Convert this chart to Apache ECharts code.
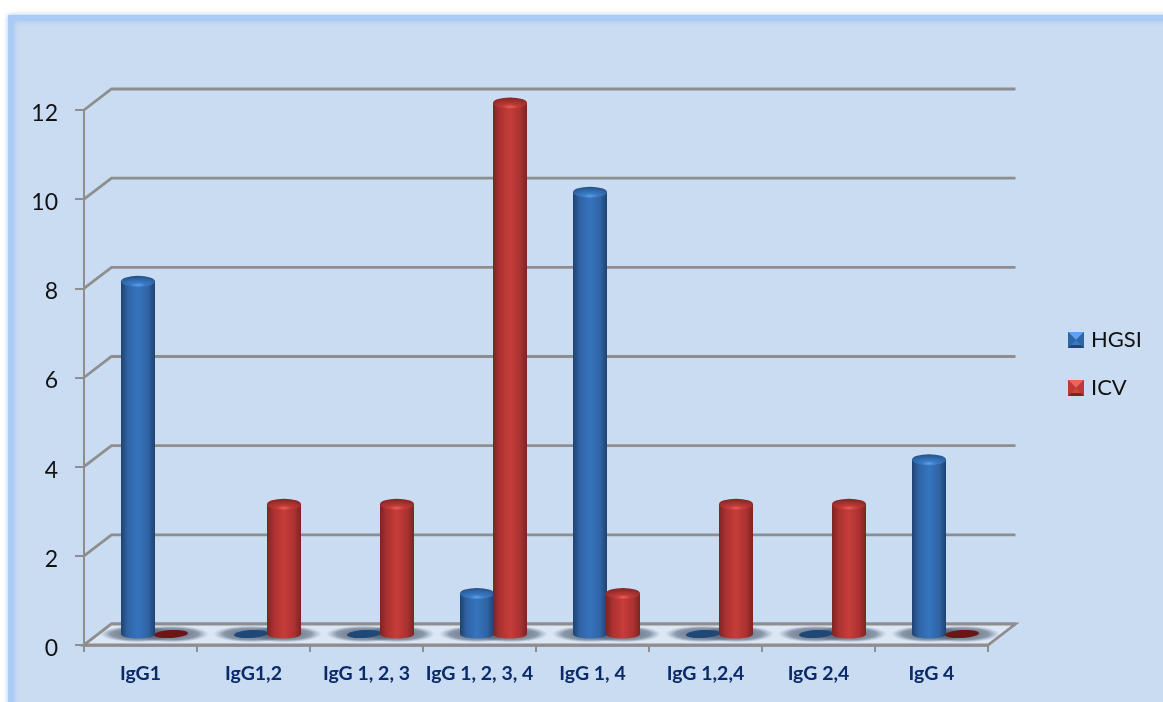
<!DOCTYPE html>
<html>
<head>
<meta charset="utf-8">
<style>html,body{margin:0;padding:0;background:#fff}#chart{width:1163px;height:702px}</style>
<script src="https://cdn.jsdelivr.net/npm/echarts@6/dist/echarts.min.js"></script>
</head>
<body>
<div id="chart"></div>
<script>
// IgG subclass counts per treatment group
const categories = ['IgG1', 'IgG1,2', 'IgG 1, 2, 3', 'IgG 1, 2, 3, 4', 'IgG 1, 4', 'IgG 1,2,4', 'IgG 2,4', 'IgG 4'];
const hgsi = [8, 0, 0, 1, 10, 0, 0, 4];
const icv = [0, 3, 3, 12, 1, 3, 3, 0];
const yTicks = [0, 2, 4, 6, 8, 10, 12];

// Depth of the pseudo-3D box, in pixels
const DEPTH_X = 27.5;
const DEPTH_Y = 21;
const LINE = '#8e8e8e';
const R = 17;        // cylinder radius
const RY_TOP = 5.5;  // minor radius of the cylinder's top face
const RY_BASE = 4.5; // minor radius of the cylinder's base

function bevelIcon(light, top, mid, side, bottom) {
  const svg = `<svg xmlns="http://www.w3.org/2000/svg" width="16" height="16">` +
    `<rect width="16" height="16" fill="${mid}"/>` +
    `<polygon points="0,0 16,0 8,8" fill="${light}"/>` +
    `<polygon points="0,0 8,8 0,16" fill="${side}"/>` +
    `<polygon points="16,0 8,8 16,16" fill="${side}"/>` +
    `<polygon points="0,16 16,16 13,13 3,13" fill="${bottom}"/>` +
    `<polygon points="3,13 13,13 8,8" fill="${top}"/></svg>`;
  return 'image://data:image/svg+xml;charset=utf-8,' + encodeURIComponent(svg);
}

function barGradient(edgeL, midL, mid, midR, edgeR) {
  return new echarts.graphic.LinearGradient(0, 0, 1, 0, [
    { offset: 0, color: edgeL }, { offset: 0.2, color: midL },
    { offset: 0.5, color: mid }, { offset: 0.8, color: midR }, { offset: 1, color: edgeR }
  ]);
}

const palettes = {
  HGSI: {
    body: barGradient('#1f4270', '#2f64a4', '#3674bf', '#2f64a4', '#1f4270'),
    top: new echarts.graphic.RadialGradient(0.5, 0.85, 0.75, [
      { offset: 0, color: '#5a9fec' }, { offset: 0.3, color: '#3a7ac4' },
      { offset: 0.7, color: '#2f68aa' }, { offset: 1, color: '#26558c' }
    ]),
    disc: '#1f4879', shift: -2.5
  },
  ICV: {
    body: barGradient('#7c2422', '#ab3130', '#c63d3a', '#ab3130', '#7c2422'),
    top: new echarts.graphic.RadialGradient(0.5, 0.85, 0.75, [
      { offset: 0, color: '#ea5f59' }, { offset: 0.3, color: '#c03a37' },
      { offset: 0.7, color: '#a32f2d' }, { offset: 1, color: '#8a2826' }
    ]),
    disc: '#6b1516', shift: 30.5
  }
};

// Cylinder drawn from its value: zero values collapse to a flat disc on the floor
function cylinder(name) {
  const p = palettes[name];
  return function (params, api) {
    const base = api.coord([api.value(0), 0]);
    const tip = api.coord([api.value(0), api.value(1)]);
    const cx = base[0] + p.shift;
    const by = base[1] - 11;
    if (api.value(1) === 0) {
      return {
        type: 'ellipse', x: cx, y: by, rotation: 0.06,
        shape: { cx: 0, cy: 0, rx: R, ry: 4 },
        style: { fill: p.disc }
      };
    }
    const ty = tip[1] - 7;
    const c = RY_BASE * 4 / 3;
    return {
      type: 'group',
      children: [
        {
          type: 'path',
          shape: {
            pathData:
              `M${cx - R} ${ty}L${cx - R} ${by}` +
              `C${cx - R} ${by + c} ${cx + R} ${by + c} ${cx + R} ${by}` +
              `L${cx + R} ${ty}Z`
          },
          style: { fill: p.body }
        },
        {
          // A squashed circle keeps the highlight gradient elliptical
          type: 'circle', x: cx, y: ty, scaleX: 1, scaleY: RY_TOP / R,
          shape: { cx: 0, cy: 0, r: R },
          style: { fill: p.top }
        }
      ]
    };
  };
}

// Soft contact shadow below each bar, squashed to lie on the floor
function floorShadow(name) {
  const p = palettes[name];
  return function (params, api) {
    const base = api.coord([api.value(0), 0]);
    return {
      type: 'circle',
      x: base[0] + p.shift,
      y: base[1] - 11,
      scaleX: 1,
      scaleY: 0.22,
      shape: { cx: 0, cy: 0, r: 38 },
      style: {
        fill: new echarts.graphic.RadialGradient(0.5, 0.5, 0.5, [
          { offset: 0, color: 'rgba(70,85,105,0.9)' },
          { offset: 0.72, color: 'rgba(85,100,120,0.6)' },
          { offset: 1, color: 'rgba(120,135,155,0)' }
        ])
      }
    };
  };
}

const first = 0;
const last = categories.length - 1;

const chart = echarts.init(document.getElementById('chart'), null, { renderer: 'canvas' });
chart.setOption({
  animation: false,
  backgroundColor: '#ffffff',
  textStyle: { fontFamily: 'Lato' },
  graphic: [{
    type: 'rect', z: -10, silent: true,
    shape: { x: 11, y: 18, width: 1200, height: 740 },
    style: {
      fill: '#c9dcf2', stroke: '#a9ccf6', lineWidth: 6,
      shadowBlur: 5, shadowColor: 'rgba(150,190,240,0.8)'
    }
  }],
  grid: { left: 84, right: 175, top: 110, bottom: 57 },
  legend: {
    orient: 'vertical', left: 1068, top: 329, padding: 0,
    itemWidth: 16, itemHeight: 16, itemGap: 26,
    textStyle: { fontFamily: 'Lato', fontSize: 22, color: '#111', padding: [0, 0, 0, 2] },
    selectedMode: false,
    data: [
      { name: 'HGSI', icon: bevelIcon('#5aa5ee', '#3a78c0', '#2f66a8', '#2f66a8', '#23466f') },
      { name: 'ICV', icon: bevelIcon('#f0605c', '#d04440', '#bb3936', '#bb3936', '#7c2422') }
    ]
  },
  xAxis: {
    type: 'category', data: categories, boundaryGap: true,
    axisLine: { show: true, lineStyle: { color: LINE, width: 2.5 } },
    axisTick: { show: true, alignWithLabel: false, length: 7, lineStyle: { color: LINE, width: 2 } },
    axisLabel: {
      interval: 0, margin: 19, fontFamily: 'Lato', fontWeight: 'bold', fontSize: 19.5, color: '#0b2a6a'
    },
    splitLine: { show: false }
  },
  yAxis: {
    type: 'value', min: 0, max: 12, interval: 2,
    axisLine: { show: true, lineStyle: { color: LINE, width: 2 } },
    axisTick: { show: true, length: 9, lineStyle: { color: LINE, width: 2 } },
    axisLabel: {
      margin: 26, verticalAlign: 'top', lineHeight: 7,
      fontFamily: 'Lato', fontSize: 23, color: '#111'
    },
    splitLine: { show: false }
  },
  series: [
    {
      // Gridlines: a diagonal up the side wall, then across the back wall
      type: 'custom', silent: true, z: 1, clip: false,
      data: yTicks.map(v => [v]),
      encode: { y: 0 },
      renderItem(params, api) {
        const a = api.coord([first, api.value(0)]);
        const b = api.coord([last, api.value(0)]);
        const half = api.size([1, 0])[0] / 2;
        const x0 = a[0] - half, x1 = b[0] + half, y = a[1];
        return {
          type: 'polyline',
          shape: { points: [[x0, y], [x0 + DEPTH_X, y - DEPTH_Y], [x1 + DEPTH_X, y - DEPTH_Y]] },
          style: { stroke: LINE, lineWidth: 2.8, fill: null }
        };
      }
    },
    {
      // Floor plate of the box
      type: 'custom', silent: true, z: 2, clip: false,
      data: [[0]],
      encode: { y: 0 },
      renderItem(params, api) {
        const a = api.coord([first, 0]);
        const b = api.coord([last, 0]);
        const half = api.size([1, 0])[0] / 2;
        const x0 = a[0] - half, x1 = b[0] + half, y = a[1];
        return {
          type: 'polygon',
          shape: { points: [[x0, y], [x1, y], [x1 + DEPTH_X, y - DEPTH_Y], [x0 + DEPTH_X, y - DEPTH_Y]] },
          style: { fill: '#dce7f6', stroke: LINE, lineWidth: 2.8 }
        };
      }
    },
    {
      type: 'custom', silent: true, z: 3, clip: false,
      data: hgsi.map((v, i) => [i, v]), encode: { x: 0, y: 1 },
      renderItem: floorShadow('HGSI')
    },
    {
      type: 'custom', silent: true, z: 3, clip: false,
      data: icv.map((v, i) => [i, v]), encode: { x: 0, y: 1 },
      renderItem: floorShadow('ICV')
    },
    {
      name: 'HGSI', type: 'custom', z: 4, clip: false,
      itemStyle: { color: '#2f66a8' },
      data: hgsi.map((v, i) => [i, v]), encode: { x: 0, y: 1 },
      renderItem: cylinder('HGSI')
    },
    {
      name: 'ICV', type: 'custom', z: 5, clip: false,
      itemStyle: { color: '#bb3936' },
      data: icv.map((v, i) => [i, v]), encode: { x: 0, y: 1 },
      renderItem: cylinder('ICV')
    }
  ]
});
</script>
</body>
</html>
